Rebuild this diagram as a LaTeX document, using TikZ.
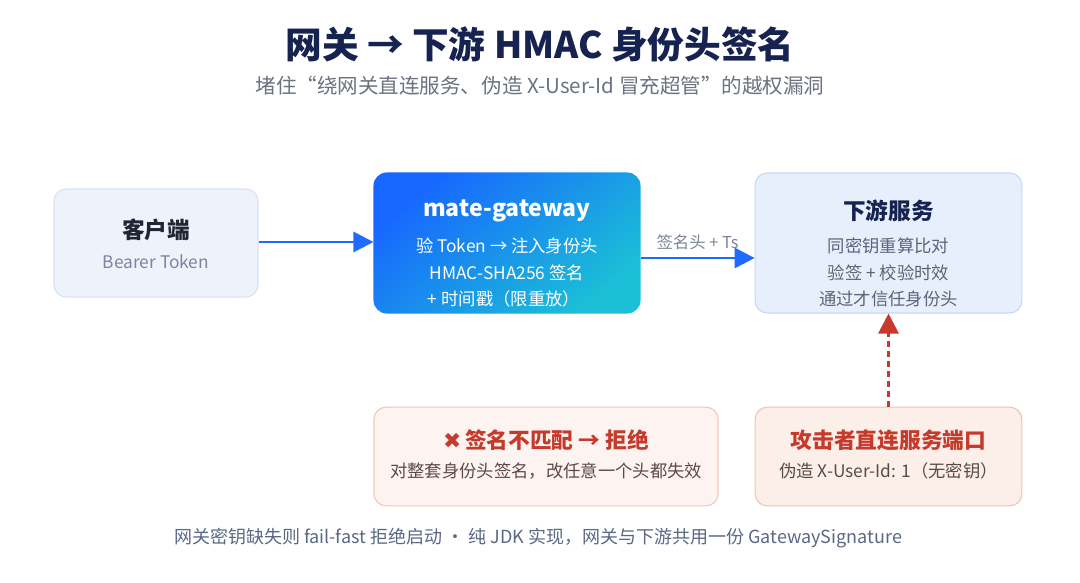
\documentclass[tikz,border=0pt]{standalone}
\usepackage{fontspec}
\setmainfont{Noto Sans CJK SC}
\newfontfamily\symfont{DejaVu Sans}
\usetikzlibrary{arrows.meta,calc}
\definecolor{navy}{HTML}{16224F}
\definecolor{subgray}{HTML}{6B7280}
\definecolor{clifill}{HTML}{EEF2FB}
\definecolor{clidraw}{HTML}{D9E2F3}
\definecolor{clititle}{HTML}{1F2533}
\definecolor{clisub}{HTML}{7A869C}
\definecolor{gwA}{HTML}{1766FF}
\definecolor{gwB}{HTML}{1BBFD6}
\definecolor{dsfill}{HTML}{E7EFFD}
\definecolor{dsdraw}{HTML}{C8D8F4}
\definecolor{dstext}{HTML}{5B6578}
\definecolor{arrblue}{HTML}{1F6BFF}
\definecolor{lblgray}{HTML}{7C8597}
\definecolor{rejfill}{HTML}{FDF4F1}
\definecolor{rejdraw}{HTML}{F0C6BA}
\definecolor{attfill}{HTML}{FCEFE9}
\definecolor{attdraw}{HTML}{F0C3B0}
\definecolor{redtitle}{HTML}{C63A2C}
\definecolor{redtext}{HTML}{5A4A46}
\definecolor{redarrow}{HTML}{C8392B}
\definecolor{foot}{HTML}{5A6785}
\tikzset{
  box/.style={rectangle, rounded corners=9pt, line width=0.8pt, inner sep=0pt},
  boxtitle/.style={font=\bfseries\fontsize{17}{20}\selectfont, inner sep=0pt},
  redboxtitle/.style={font=\bfseries\fontsize{16.3}{20}\selectfont, inner sep=0pt, text=redtitle},
  boxline/.style={font=\fontsize{13}{15}\selectfont, inner sep=0pt},
  bluearrow/.style={draw=arrblue, line width=2.2pt, -{Triangle[length=15pt,width=15pt]}},
  redarrowstyle/.style={draw=redarrow, line width=2.2pt, dash pattern=on 4.5pt off 3pt, -{Triangle[length=15pt,width=15pt]}},
}
\begin{document}
\begin{tikzpicture}[x=0.75pt,y=-0.75pt]
\path[use as bounding box, fill=white] (0,0) rectangle (1080,582);

% title
\node[inner sep=0pt, text=navy, font=\bfseries\fontsize{27.5}{32}\selectfont] (title) at (540,44) {网关 → 下游 HMAC 身份头签名};
\node[inner sep=0pt, text=subgray, font=\fontsize{15.4}{18}\selectfont] (subtitle) at (540,86) {堵住“绕网关直连服务、伪造 X-User-Id 冒充超管”的越权漏洞};

% client
\node[box, fill=clifill, draw=clidraw, minimum width=153pt, minimum height=81pt] (cli) at (156,243) {};
\node[boxtitle, text=clititle] (clit) at (156,230) {客户端};
\node[boxline, text=clisub] (clis) at (156,262) {Bearer Token};

% gateway
\node[box, draw=none, minimum width=199.5pt, minimum height=105pt] (gw) at (507,243) {};
\shade[rounded corners=10pt, top color=gwA, bottom color=gwB, shading angle=40]
  (gw.south west) rectangle (gw.north east);
\node[inner sep=0pt, text=white, font=\bfseries\fontsize{17.3}{20}\selectfont] (gwt) at (507,211) {mate-gateway};
\node[boxline, text=white] (gw1) at (507,246) {验 Token → 注入身份头};
\node[boxline, text=white] (gw2) at (507,273) {HMAC-SHA256 签名};
\node[boxline, text=white] (gw3) at (504,299) {+ 时间戳（限重放）};

% downstream
\node[box, fill=dsfill, draw=dsdraw, minimum width=200pt, minimum height=105pt] (ds) at (888.5,243) {};
\node[boxtitle, text=navy] (dst) at (888.5,211) {下游服务};
\node[boxline, text=dstext] (ds1) at (888.5,246) {同密钥重算比对};
\node[boxline, text=dstext] (ds2) at (888.5,273) {验签 + 校验时效};
\node[boxline, text=dstext] (ds3) at (888.5,299) {通过才信任身份头};

% reject
\node[box, fill=rejfill, draw=rejdraw, minimum width=258pt, minimum height=74pt] (rej) at (546,456.5) {};
\node[redboxtitle] (rejt) at (546,440) {{\symfont\bfseries ✖}\,签名不匹配 → 拒绝};
\node[boxline, text=redtext] (rejs) at (546,471) {对整套身份头签名，改任意一个头都失效};

% attacker
\node[box, fill=attfill, draw=attdraw, minimum width=200pt, minimum height=74pt] (att) at (888.5,456.5) {};
\node[redboxtitle] (attt) at (888.5,440) {攻击者直连服务端口};
\node[boxline, text=redtext] (atts) at (888.5,471) {伪造 X-User-Id: 1（无密钥）};

% connectors
\draw[bluearrow] (cli.east |- 0,242) -- (gw.west |- 0,242);
\draw[bluearrow] ($(gw.east)+(0,15)$) -- node[above=5pt, inner sep=0pt, text=lblgray, font=\fontsize{12.3}{14}\selectfont] (lbl) {签名头 + Ts} ($(ds.west)+(0,15)$);
\draw[redarrowstyle] (att.north) -- (ds.south);

% footer
\node[inner sep=0pt, text=foot, font=\fontsize{13.5}{16}\selectfont] (footer) at (538,538) {网关密钥缺失则 fail-fast 拒绝启动 · 纯 JDK 实现，网关与下游共用一份 GatewaySignature};
\end{tikzpicture}
\end{document}
